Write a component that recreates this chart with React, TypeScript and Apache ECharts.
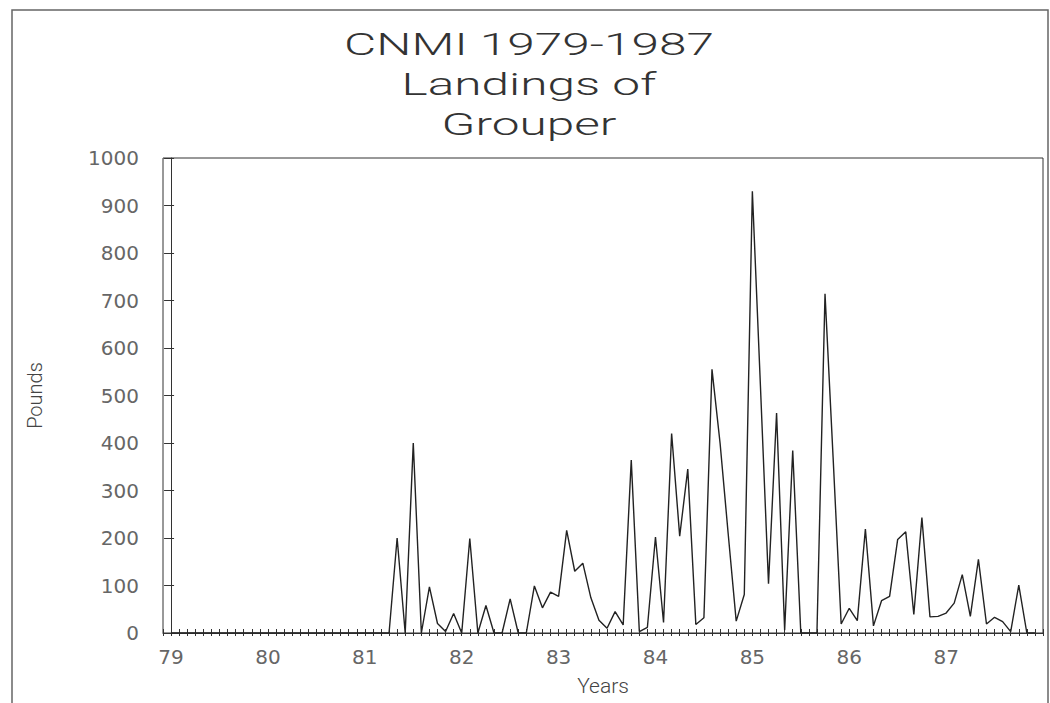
import React, { useEffect, useRef } from "react";
import * as echarts from "echarts";

// Monthly landings of grouper, Jan 1979 .. Dec 1987 (108 months), pounds
const landings: number[] = [
  // 1979
  0, 0, 0, 0, 0, 0, 0, 0, 0, 0, 0, 0,
  // 1980
  0, 0, 0, 0, 0, 0, 0, 0, 0, 0, 0, 0,
  // 1981
  0, 0, 0, 0, 200, 0, 400, 0, 97, 20, 3, 41,
  // 1982
  0, 199, 0, 58, 0, 0, 72, 0, 0, 99, 53, 86,
  // 1983
  77, 216, 130, 147, 74, 27, 10, 45, 17, 364, 3, 12,
  // 1984
  202, 22, 420, 204, 345, 18, 32, 555, 400, 210, 25, 81,
  // 1985
  930, 520, 104, 463, 6, 384, 0, 0, 0, 714, 370, 19,
  // 1986
  52, 26, 219, 15, 68, 77, 197, 213, 39, 243, 34, 35,
  // 1987
  42, 63, 123, 35, 155, 19, 33, 24, 3, 101, 0, 0,
];

const yearLabels: string[] = ["79", "80", "81", "82", "83", "84", "85", "86", "87"];
const titleLines: string[] = ["CNMI 1979-1987", "Landings of", "Grouper"];
const xAxisName = "Years";
const yAxisName = "Pounds";

const FONT = "Roboto, 'DejaVu Sans', sans-serif";
const LABEL_FONT = "'DejaVu Sans', Roboto, sans-serif";

export default function App() {
  const ref = useRef<HTMLDivElement>(null);

  useEffect(() => {
    if (!ref.current) return;
    const chart = echarts.init(ref.current, null, { renderer: "svg" });
    const seriesData = landings.map((v, i) => [i, v]);

    const xCommon = {
      type: "value" as const,
      min: -1,
      max: 108,
      interval: 1,
      splitLine: { show: false },
    };
    const yCommon = {
      type: "value" as const,
      min: 0,
      max: 1000,
      interval: 100,
      splitLine: { show: false },
    };

    const titleGraphics = titleLines.map((t, k) => ({
      type: "group",
      x: 529,
      y: 0,
      scaleX: 1.6,
      children: [
        {
          type: "text",
          x: 0,
          y: 45 + k * 40,
          style: {
            text: t,
            fontFamily: FONT,
            fontWeight: 300,
            fontSize: 31,
            fill: "#333",
            align: "center",
            verticalAlign: "middle",
          },
        },
      ],
    }));

    chart.setOption({
      animation: false,
      backgroundColor: "#fff",
      grid: {
        left: 163,
        right: 7,
        top: 158,
        bottom: 70,
        show: true,
        borderColor: "#333",
        borderWidth: 1,
        backgroundColor: "transparent",
      },
      graphic: [
        {
          type: "rect",
          shape: { x: 12, y: 10, width: 1036, height: 720 },
          style: { fill: "none", stroke: "#666", lineWidth: 1.5 },
          silent: true,
        },
        ...titleGraphics,
      ],
      xAxis: [
        {
          ...xCommon,
          position: "bottom",
          name: xAxisName,
          nameLocation: "middle",
          nameGap: 42,
          nameTextStyle: { fontFamily: FONT, fontWeight: 300, fontSize: 21, color: "#444" },
          axisLine: { show: true, lineStyle: { color: "#333", width: 1 } },
          axisTick: { show: true, length: 3, lineStyle: { color: "#333" } },
          axisLabel: {
            show: true,
            margin: 14,
            fontFamily: LABEL_FONT,
            fontSize: 20,
            color: "#666",
            formatter: (v: number) =>
              v >= 0 && v % 12 === 0 && yearLabels[v / 12] !== undefined ? yearLabels[v / 12] : "",
          },
        },
        {
          ...xCommon,
          position: "bottom",
          axisLine: { show: false },
          axisTick: { show: true, inside: true, length: 4, lineStyle: { color: "#333" } },
          axisLabel: { show: false },
        },
      ],
      yAxis: [
        {
          ...yCommon,
          position: "left",
          name: yAxisName,
          nameLocation: "middle",
          nameGap: 118,
          nameTextStyle: { fontFamily: FONT, fontWeight: 300, fontSize: 20, color: "#444" },
          axisLine: { show: true, lineStyle: { color: "#333", width: 1 } },
          axisTick: { show: true, length: 7, lineStyle: { color: "#333" } },
          axisLabel: {
            show: true,
            margin: 24,
            fontFamily: LABEL_FONT,
            fontSize: 20,
            color: "#666",
            formatter: (v: number) => String(v),
          },
        },
        {
          ...yCommon,
          position: "left",
          axisLine: { show: false },
          axisTick: { show: true, inside: true, length: 3, lineStyle: { color: "#333" } },
          axisLabel: { show: false },
        },
      ],
      series: [
        {
          type: "line",
          xAxisIndex: 0,
          yAxisIndex: 0,
          data: seriesData,
          showSymbol: false,
          symbol: "none",
          lineStyle: { color: "#222", width: 1.4 },
          silent: true,
        },
      ],
    });

    return () => chart.dispose();
  }, []);

  return (
    <div
      ref={ref}
      style={{ position: "fixed", left: 0, top: 0, width: 1050, height: 703, background: "#fff" }}
    />
  );
}
